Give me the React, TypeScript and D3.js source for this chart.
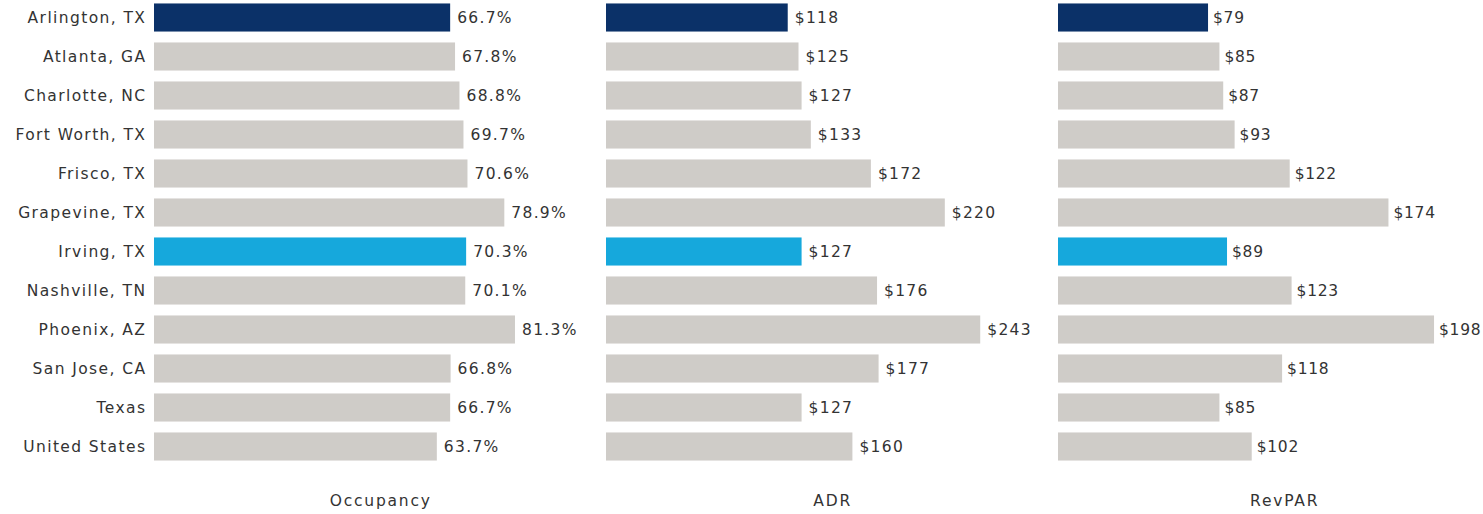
import React from "react";
import * as d3 from "d3";

const categories = [
  "Arlington, TX", "Atlanta, GA", "Charlotte, NC", "Fort Worth, TX", "Frisco, TX",
  "Grapevine, TX", "Irving, TX", "Nashville, TN", "Phoenix, AZ", "San Jose, CA",
  "Texas", "United States",
];
const occupancy = [66.7, 67.8, 68.8, 69.7, 70.6, 78.9, 70.3, 70.1, 81.3, 66.8, 66.7, 63.7];
const adr = [118, 125, 127, 133, 172, 220, 127, 176, 243, 177, 127, 160];
const revpar = [79, 85, 87, 93, 122, 174, 89, 123, 198, 118, 85, 102];
const panelTitles = ["Occupancy", "ADR", "RevPAR"];

const W = 1483, H = 514;
const FONT = "'DejaVu Sans', Verdana, sans-serif";

function colorFor(c: string) {
  if (c === "Arlington, TX") return "#0b3168";
  if (c === "Irving, TX") return "#16a8dc";
  return "#cfccc8";
}

export default function App() {
  const y = d3.scaleBand<string>().domain(categories).range([-2, 466]).paddingInner(0.28).paddingOuter(0.14);
  const panels = [
    { title: panelTitles[0], data: occupancy, x0: 154, max: 101.8, fmt: (v: number) => `${v.toFixed(1)}%`, gap: 7, vls: 1.3 },
    { title: panelTitles[1], data: adr, x0: 606, max: 293.5, fmt: (v: number) => `$${v}`, gap: 7, vls: 1.3 },
    { title: panelTitles[2], data: revpar, x0: 1058, max: 238, fmt: (v: number) => `$${v}`, gap: 5, vls: 0.7 },
  ];
  const pw = 452;
  const ls = 1.4;
  return (
    <svg width={W} height={H} style={{ position: "absolute", left: 0, top: 0, background: "#fff" }}>
      <g fontFamily={FONT} fontSize={15.5} fill="#333" letterSpacing={ls}>
        {categories.map((c) => (
          <text key={c} x={145 + ls} y={(y(c) as number) + y.bandwidth() / 2} dy="0.35em" textAnchor="end">
            {c}
          </text>
        ))}
        {panels.map((p) => {
          const x = d3.scaleLinear().domain([0, p.max]).range([p.x0, p.x0 + pw]);
          return (
            <g key={p.title}>
              {p.data.map((v, i) => {
                const c = categories[i];
                const yy = y(c) as number;
                return (
                  <g key={c}>
                    <rect x={x(0)} y={yy} width={x(v) - x(0)} height={y.bandwidth()} fill={colorFor(c)} />
                    <text x={x(v) + p.gap} y={yy + y.bandwidth() / 2} dy="0.35em" letterSpacing={p.vls}>
                      {p.fmt(v)}
                    </text>
                  </g>
                );
              })}
              <text x={p.x0 + pw / 2 + ls / 2} y={501} dy="0.35em" textAnchor="middle" letterSpacing={1.8}>
                {p.title}
              </text>
            </g>
          );
        })}
      </g>
    </svg>
  );
}
